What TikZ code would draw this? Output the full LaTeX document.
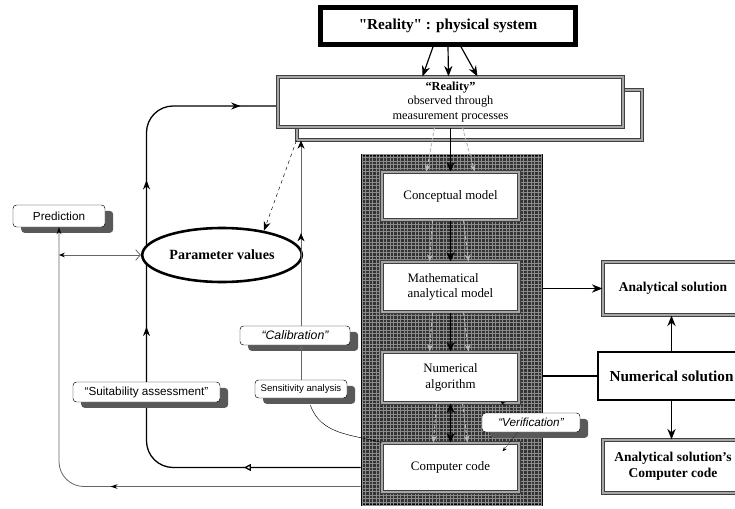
\documentclass[tikz,border=0pt]{standalone}
\usepackage{fontspec}
\setmainfont{Liberation Serif}[Ligatures=TeXOff]
\setsansfont{Liberation Sans}
\usetikzlibrary{arrows.meta,positioning,calc,shapes.geometric,shadows,patterns,backgrounds,decorations.markings}

\begin{document}
\begin{tikzpicture}[x=0.03cm, y=0.03cm,
  box/.style={draw=black!75, double=black!35, double distance=1.2pt, line width=0.9pt, fill=white, inner sep=1pt, align=center, font=\fontsize{11}{13}\selectfont},
  strong/.style={draw, fill=white, align=center, font=\bfseries\fontsize{13}{15}\selectfont},
  note/.style={draw, rounded corners=3pt, fill=white, inner sep=1pt, font=\sffamily\fontsize{10}{12}\selectfont,
    drop shadow={shadow xshift=7pt, shadow yshift=-5pt, fill=black!65, opacity=1}},
  panel/.style={draw, line width=2.5pt, fill=black!80, postaction={pattern=grid, pattern color=black!45}},
  heavy/.style={line width=1.5pt},
  bigtip/.style={-{Stealth[length=9pt,width=7pt]}},
  midtip/.style={line width=1.3pt, -{Stealth[length=8pt,width=7pt]}},
  faint/.style={dash pattern=on 3pt off 1.5pt, line width=0.8pt, gray!55, -{Stealth[length=6pt,width=5pt]}},
  thinline/.style={black!60, line width=0.7pt},
  feedback/.style={line width=1.1pt, rounded corners=0.8cm},
  arrowmarks/.style={postaction={decorate}, decoration={markings, #1}},
]
\useasboundingbox (0,0) rectangle (735,-509);
\clip (0,0) rectangle (735,-509);

\node[strong, line width=4pt, minimum width=7.65cm, minimum height=1.11cm] (phys) at (448,-26) {"Reality" : physical system};
\node[box, minimum width=10.35cm, minimum height=1.5cm] (obsb) at (469.5,-115) {};
\node[box, minimum width=10.35cm, minimum height=1.5cm, font=\fontsize{10.5}{12.5}\selectfont] (obs) at (450.5,-102)
  {\textbf{“Reality”}\\observed through\\measurement processes};

\node[panel, minimum width=5.4cm, minimum height=10.5cm] (panel) at (452,-330) {};
\node[box, minimum width=4.11cm, minimum height=1.44cm] (concept) at (450.5,-196) {Conceptual model};
\node[box, minimum width=4.11cm, minimum height=1.5cm, align=left] (math) at (450.5,-287) {Mathematical\\analytical model};
\node[box, minimum width=4.11cm, minimum height=1.53cm] (numalg) at (450.5,-377.5) {Numerical\\algorithm};
\node[box, minimum width=4.11cm, minimum height=1.47cm] (code) at (450.5,-467.5) {Computer code};

\node[box, minimum width=4.2cm, minimum height=1.59cm, font=\bfseries\fontsize{11.5}{14}\selectfont] (ana) at (673,-288.5) {Analytical solution};
\node[strong, line width=2.5pt, minimum width=4.41cm, minimum height=1.44cm] (numsol) at (671.5,-376) {Numerical solution};
\node[box, minimum width=4.2cm, minimum height=1.59cm, font=\bfseries\fontsize{11.5}{14}\selectfont] (anacode) at (673,-466.5) {Analytical solution’s\\Computer code};

\node[note, minimum width=2.76cm, minimum height=0.66cm] (pred) at (59,-216) {Prediction};
\node[ellipse, draw, line width=2.2pt, fill=white, minimum width=3.87cm, minimum height=1.62cm,
  font=\bfseries\fontsize{12}{14}\selectfont] (par) at (222,-255) {Parameter values};
\node[note, minimum width=4.41cm, minimum height=0.6cm] (suit) at (146.5,-392) {“Suitability assessment”};
\node[note, minimum width=3.3cm, minimum height=0.57cm, font=\sffamily\itshape\fontsize{10.5}{12}\selectfont] (calib) at (295,-335.5) {“Calibration”};
\node[note, minimum width=2.76cm, minimum height=0.54cm, font=\sffamily\fontsize{8.2}{10}\selectfont] (sens) at (301,-389) {Sensitivity analysis};
\node[note, minimum width=2.94cm, minimum height=0.57cm, font=\sffamily\itshape\fontsize{10}{12}\selectfont] (verif) at (531,-422.5) {“Verification”};

\foreach \a/\b in {-15/-28, 0/-2, 13/27}
  \draw[line width=1pt, bigtip] ($(phys.south)+(\a,0)$) -- ($(obs.north)+(\b,0)$);

\draw[faint] ($(obs.south)+(-16,0)$) -- ($(concept.north)+(-24,0)$);
\draw[midtip] (obs.south -| concept) -- (concept.north);
\draw[faint] ($(obs.south)+(12,0)$) -- ($(concept.north)+(24,0)$);
\foreach \u/\l in {concept/math, math/numalg}{
  \draw[faint] ($(\u.south)+(-18,0)$) -- ($(\l.north)+(-21,0)$);
  \draw[midtip] (\u) -- (\l);
  \draw[faint] ($(\u.south)+(13,0)$) -- ($(\l.north)+(18,0)$);
}
\draw[faint] ($(numalg.south)+(-14,0)$) -- ($(code.north)+(-17,0)$);
\draw[line width=1.3pt, {Stealth[length=8pt,width=7pt]}-{Stealth[length=8pt,width=7pt]}] (numalg) -- (code);
\draw[faint] ($(numalg.south)+(12,0)$) -- ($(code.north)+(17,0)$);

\draw[heavy, bigtip] (panel.east |- ana.west) -- (ana.west);
\draw[heavy] (panel.east |- numsol.west) -- (numsol.west);
\draw[heavy, bigtip] (numsol.north) -- (numsol.north |- ana.south);
\draw[heavy, bigtip] (numsol.south) -- (numsol.south |- anacode.north);

\draw[densely dotted, -{Stealth[length=4pt]}] ($(verif.north)+(-14,0)$) -- ($(numalg.south east)+(-19,2)$);
\draw[densely dotted, -{Stealth[length=4pt]}] ($(verif.south)+(-13,0)$) -- ($(code.north east)+(-17,-9)$);

\begin{scope}[on background layer]
\draw[feedback, arrowmarks={
    mark=at position 3.5cm with {\arrow{Triangle[open,fill=white,length=6pt,width=6pt]}},
    mark=at position 10.3cm with {\arrow{Stealth[length=8pt,width=6pt]}},
    mark=at position 14.7cm with {\arrow{Stealth[length=8pt,width=6pt]}},
    mark=at position 19.4cm with {\arrow{Stealth[length=8pt,width=6pt]}}}]
  (panel.west |- code) -| (suit.center) |- ($(obs.west)+(0,-4)$);
\end{scope}

\coordinate (lowin) at ($(panel.west |- code.south)+(0,6)$);
\draw[thinline, rounded corners=0.75cm, -{Stealth[length=6pt,width=4pt,color=black]},
  arrowmarks={mark=at position 7.5cm with {\arrow{Stealth[length=6pt,width=4pt,color=black]}}}]
  (lowin) -| (pred.south);
\draw[thinline, {Stealth[length=5pt,width=4pt,color=black]}-{Straight Barb[length=4pt,width=9pt]}] (pred.south |- par.west) -- (par.west);
\draw[dashed, -{Stealth[length=8pt,width=6pt]}] (obsb.south west) -- (par.30);

\draw[thinline, -{Stealth[length=7pt,width=6pt,color=black]},
  arrowmarks={mark=at position 0.5 with {\arrow{Stealth[length=7pt,width=6pt,color=black]}}}]
  (calib.north -| sens) -- (obsb.south -| sens);
\draw[thinline, -{Triangle[open,length=3pt,width=4pt]}] (sens.north) -- (calib.south -| sens);
\draw ([xshift=8pt,yshift=-6pt]sens.south) to[out=-70, in=165] (code.north west);

\end{tikzpicture}
\end{document}
